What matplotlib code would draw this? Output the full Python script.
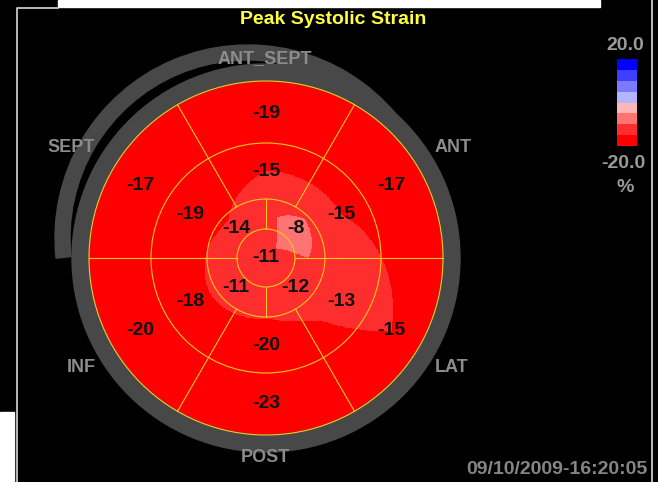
import numpy as np
import matplotlib
matplotlib.use("Agg")
import matplotlib.pyplot as plt
from matplotlib.patches import Circle, Wedge, Rectangle
from matplotlib.colors import ListedColormap, BoundaryNorm

plt.rcParams['font.family'] = ['Liberation Sans', 'DejaVu Sans']

# segment values (peak systolic strain, %)
apex_value = -11
apical_angles = [45, 135, 225, 315]
apical_values = [-8, -14, -11, -12]
ring_angles = [30, 90, 150, 210, 270, 330]
mid_values = [-15, -15, -19, -18, -20, -13]
basal_values = [-17, -19, -17, -20, -23, -15]

wall_names = ["ANT_SEPT", "SEPT", "ANT", "INF", "LAT", "POST"]
cbar_bounds = [-20, -15, -10, -5, 0, 5, 10, 15, 20]
cbar_colors = ['#ff0000', '#ff2e2e', '#ff7373', '#ffb6b6',
               '#b4b4ff', '#7a7aff', '#3e3eff', '#0000ff']

# geometry (pixel space)
cx, cy = 266, 258
r_apex, r_apical, r_mid, r_base = 29, 59, 115, 177
gray = '#484848'
yel = '#f2c81e'

fig = plt.figure(figsize=(6.58, 4.82), dpi=100)
fig.patch.set_facecolor('black')
ax = fig.add_axes([0, 0, 1, 1])
ax.set_facecolor('black')

# smooth strain field from segment values
n = 600
xs = np.linspace(cx - r_base, cx + r_base, n)
ys = np.linspace(cy - r_base, cy + r_base, n)
X, Y = np.meshgrid(xs, ys)
R = np.hypot(X - cx, Y - cy)
T = np.degrees(np.arctan2(cy - Y, X - cx)) % 360
a1 = np.interp(T, apical_angles, apical_values, period=360)
a2 = np.interp(T, ring_angles, mid_values, period=360)
a3 = np.interp(T, ring_angles, basal_values, period=360)
rc = [0, 42, 87, 145]
F = np.where(R < rc[1], apex_value + (a1 - apex_value) * R / rc[1],
    np.where(R < rc[2], a1 + (a2 - a1) * (R - rc[1]) / (rc[2] - rc[1]),
    np.where(R < rc[3], a2 + (a3 - a2) * (R - rc[2]) / (rc[3] - rc[2]), a3)))
F = np.ma.masked_where(R > r_base + 1, F)

cmap = ListedColormap(cbar_colors)
norm = BoundaryNorm(cbar_bounds, cmap.N)
im = ax.imshow(F, cmap=cmap, norm=norm, origin='upper', interpolation='nearest',
               extent=(xs[0], xs[-1], ys[-1], ys[0]), zorder=1)

# gray rings
ax.add_patch(Wedge((248, 238), 193, -186, -40, width=15, color=gray, zorder=0.5))
ax.add_patch(Wedge((cx, cy), 194, 0, 360, width=17, color=gray, zorder=3))

# segment grid
for r in [r_apex, r_apical, r_mid, r_base]:
    ax.add_patch(Circle((cx, cy), r, fill=False, ec=yel, lw=0.8, zorder=4))

def seg_line(ang, r0, r1):
    t = np.radians(ang)
    ax.plot([cx + r0 * np.cos(t), cx + r1 * np.cos(t)],
            [cy - r0 * np.sin(t), cy - r1 * np.sin(t)], color=yel, lw=0.8, zorder=4)

for ang in [0, 180]:
    seg_line(ang, r_apex, r_base)
for ang in [90, 270]:
    seg_line(ang, r_apex, r_apical)
for ang in [60, 120, 240, 300]:
    seg_line(ang, r_apical, r_base)

# segment labels
def seg_text(ang, r, v):
    t = np.radians(ang)
    ax.text(cx + r * np.cos(t), cy - r * np.sin(t), str(v), ha='center', va='center',
            fontsize=14, fontweight='bold', color='#111111', zorder=5)

seg_text(0, 0, apex_value)
for a, v in zip(apical_angles, apical_values):
    seg_text(a, 42, v)
for a, v in zip(ring_angles, mid_values):
    seg_text(a, 87, v)
for a, v in zip(ring_angles, basal_values):
    seg_text(a, 145, v)

# wall names
wall_pos = [(265, 59), (71, 148), (453, 148), (81, 368), (452, 368), (265, 457)]
for name, (x, y) in zip(wall_names, wall_pos):
    ax.text(x, y, name, ha='center', va='center', fontsize=13,
            fontweight='bold', color='#8c8c8c', zorder=6)

ax.text(333, 20, "Peak Systolic Strain", ha='center', va='center', fontsize=14,
        fontweight='bold', color='#ffff40')
ax.text(557, 469, "09/10/2009-16:20:05", ha='center', va='center', fontsize=14,
        fontweight='bold', color='#858585')

# colorbar
cax = fig.add_axes([617 / 658, 1 - 146 / 482, 20 / 658, 87 / 482])
cb = fig.colorbar(im, cax=cax)
cb.outline.set_visible(False)
cax.set_yticks([])
ax.text(625, 45, "20.0", ha='center', va='center', fontsize=14,
        fontweight='bold', color='#9a9a9a')
ax.text(623, 163, "-20.0", ha='center', va='center', fontsize=14,
        fontweight='bold', color='#9a9a9a')
ax.text(625, 187, "%", ha='center', va='center', fontsize=14,
        fontweight='bold', color='#9a9a9a')

# window frame
ax.add_patch(Rectangle((58, 0), 542, 7, color='white', zorder=7))
ax.add_patch(Rectangle((0, 412), 14, 70, color='white', zorder=7))
ax.plot([16.5, 16.5, 58], [482, 7.5, 7.5], color='#d8d8d8', lw=1.2, zorder=7)
ax.plot([651.5, 651.5], [0, 482], color='#d8d8d8', lw=1.2, zorder=7)

ax.set_xlim(0, 658)
ax.set_ylim(482, 0)
ax.set_aspect('auto')
ax.axis('off')

fig.savefig('out.png', dpi=100, facecolor='black')
